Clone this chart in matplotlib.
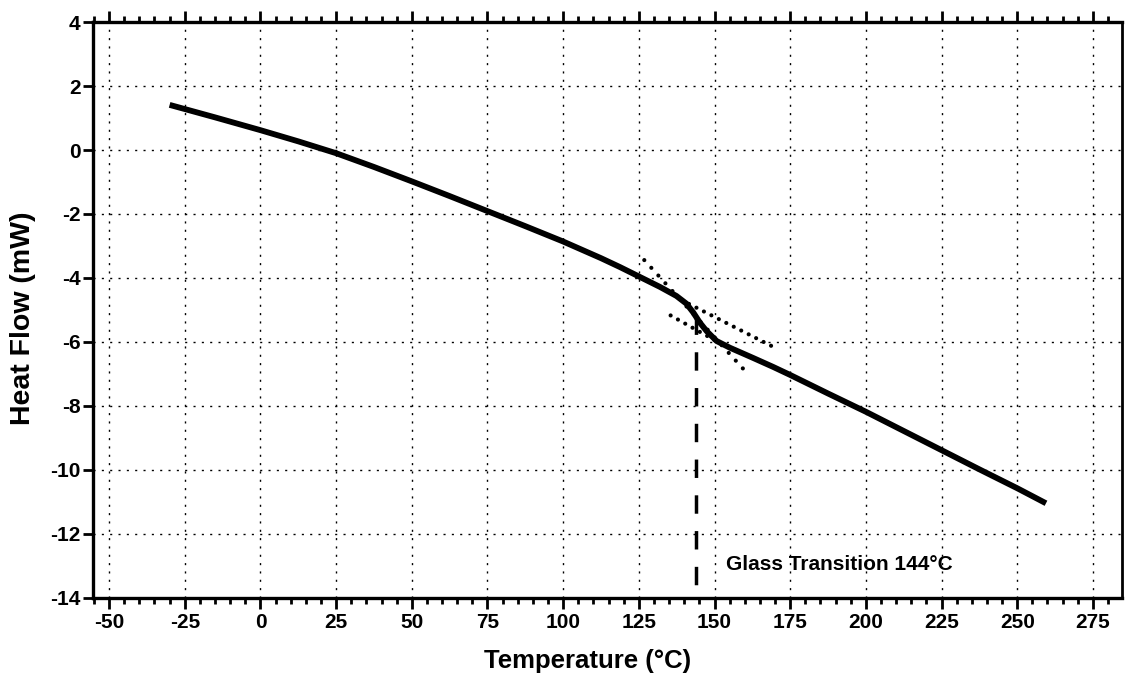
import matplotlib
matplotlib.use("Agg")
import matplotlib.pyplot as plt
from matplotlib.ticker import MultipleLocator

# DSC curve
temperature = [-30, -15, 0, 12.5, 25, 37.5, 50, 62.5, 75, 87.5, 100, 112.5,
               118.8, 125.4, 132, 137.4, 140.7, 143, 145.2, 147.4, 150.7,
               155.1, 162.8, 169.4, 175, 187.5, 200, 212.5, 225, 237.5, 250,
               259.5]
heat_flow = [1.41, 1.02, 0.62, 0.27, -0.10, -0.53, -0.98, -1.44, -1.91, -2.38,
             -2.86, -3.38, -3.66, -3.97, -4.28, -4.56, -4.80, -5.08, -5.40,
             -5.66, -5.97, -6.18, -6.50, -6.78, -7.03, -7.61, -8.18, -8.78,
             -9.38, -9.98, -10.57, -11.04]

# construction lines around the transition
tangent_steep_t = [126.8, 159.5]
tangent_steep_hf = [-3.44, -6.84]
baseline_pre_t = [139.1, 170.8]
baseline_pre_hf = [-4.69, -6.22]
baseline_post_t = [135.5, 152.8]
baseline_post_hf = [-5.17, -6.09]

tg = 144
tg_top = -5.19
tg_label = "Glass Transition 144°C"

x_ticks = list(range(-50, 276, 25))
y_ticks = list(range(-14, 5, 2))

plt.rcParams["font.family"] = ["Liberation Sans", "DejaVu Sans"]
plt.rcParams["font.weight"] = "bold"
plt.rcParams["axes.unicode_minus"] = False

fig = plt.figure(figsize=(11.25, 6.77), dpi=100)
ax = fig.add_axes([0.0827, 0.1167, 0.9146, 0.8508])

ax.grid(True, color="black", linewidth=1.0, linestyle=(0, (1.5, 4.5)))
ax.set_axisbelow(True)

ax.plot(temperature, heat_flow, color="black", linewidth=4.2,
        solid_capstyle="butt", solid_joinstyle="round", zorder=3)

ax.plot(tangent_steep_t, tangent_steep_hf, color="black", linewidth=3.0,
        linestyle=(0, (0.01, 2.5)), dash_capstyle="round", zorder=4)
ax.plot(baseline_pre_t, baseline_pre_hf, color="black", linewidth=3.0,
        linestyle=(0, (0.01, 2.0)), dash_capstyle="round", zorder=4)
ax.plot(baseline_post_t, baseline_post_hf, color="black", linewidth=3.0,
        linestyle=(0, (0.01, 2.0)), dash_capstyle="round", zorder=4)

ax.plot([tg, tg], [tg_top, -14], color="black", linewidth=2.5,
        linestyle=(0, (5.3, 5.0)), zorder=4)
ax.text(153.8, -12.95, tg_label, fontsize=15, fontweight="bold",
        ha="left", va="center")

ax.set_xlim(-55.3, 284.6)
ax.set_ylim(-14, 4)
ax.set_xticks(x_ticks)
ax.set_yticks(y_ticks)
ax.xaxis.set_minor_locator(MultipleLocator(5))

ax.tick_params(axis="x", which="both", top=True, bottom=True,
               direction="out", width=2, labelsize=15, pad=3)
ax.tick_params(axis="x", which="major", length=8)
ax.tick_params(axis="x", which="minor", length=4.5)
ax.tick_params(axis="y", which="major", left=True, right=False,
               direction="out", length=7, width=2, labelsize=15, pad=2)

for side in ["left", "bottom", "top"]:
    ax.spines[side].set_linewidth(2.4)
ax.spines["right"].set_linewidth(2.0)

fig.text(588 / 1125, 1 - 661 / 677, "Temperature (°C)", fontsize=18.5,
         fontweight="bold", ha="center", va="center")
fig.text(23 / 1125, 1 - 318 / 677, "Heat Flow (mW)", fontsize=20.5,
         fontweight="bold", ha="center", va="center", rotation=90)

fig.savefig("out.png", dpi=100)
plt.close(fig)
